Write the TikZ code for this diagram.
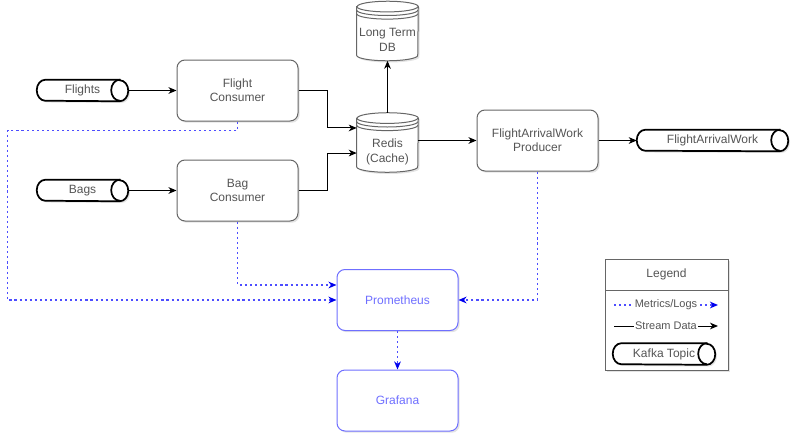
\documentclass[tikz,border=0pt]{standalone}
\usepackage{fontspec}
\setmainfont{Liberation Sans}
\usepackage{tikz}
\usetikzlibrary{arrows.meta,shadows,backgrounds}
\tikzset{>={Stealth[length=6pt,width=5pt,inset=1.8pt]}}
\definecolor{boxgray}{HTML}{666666}
\definecolor{textgray}{HTML}{555555}
\definecolor{metricblue}{HTML}{4D4DFF}
\definecolor{tipblue}{HTML}{0000EE}
\definecolor{promblue}{HTML}{6F6FFF}
\tikzset{softshadow/.style={drop shadow={opacity=0.22, shadow xshift=1.3pt, shadow yshift=-1.3pt}}}

% kafka topic outline round a named node
\newcommand{\kafkatopic}[1]{%
  \begin{scope}[on background layer]
    \path[draw=black, line width=1.3pt, fill=white, softshadow]
      ([xshift=-6.4pt]#1.north east) -- ([xshift=6.4pt]#1.north west)
      arc[start angle=90, end angle=270, x radius=6.4pt, y radius=7.875pt]
      -- ([xshift=-6.4pt]#1.south east)
      arc[start angle=-90, end angle=90, x radius=6.4pt, y radius=7.875pt] -- cycle;
    \draw[black, line width=1.3pt] ([xshift=-6.4pt]#1.north east)
      arc[start angle=90, end angle=270, x radius=6.4pt, y radius=7.875pt];
  \end{scope}}

% datastore outline round a named node
\newcommand{\datastore}[1]{%
  \begin{scope}[on background layer]
    \path[draw=boxgray, line width=0.75pt, fill=white, softshadow]
      ([yshift=-4pt]#1.north west) -- ([yshift=4pt]#1.south west)
      arc[start angle=180, end angle=360, x radius=22.875pt, y radius=4pt]
      -- ([yshift=-4pt]#1.north east)
      arc[start angle=0, end angle=180, x radius=22.875pt, y radius=4pt] -- cycle;
  \end{scope}
  \foreach \rim in {4,6.7,9.4}
    \draw[boxgray, line width=0.75pt] ([yshift=-\rim pt]#1.north west)
      arc[start angle=180, end angle=360, x radius=22.875pt, y radius=4pt];}

\begin{document}
\begin{tikzpicture}[x=0.75pt, y=-0.75pt]
  \tikzstyle{box} = [draw=boxgray, line width=0.75pt, rounded corners=6pt, fill=white, text=textgray, align=center, minimum width=90.75pt, minimum height=45.75pt, font=\fontsize{9}{10.5}\selectfont, softshadow]
  \tikzstyle{mbox} = [box, draw=promblue, text=promblue]
  \tikzstyle{topic} = [minimum width=68.25pt, minimum height=15.75pt, inner sep=0pt, text=textgray, font=\fontsize{9}{10.5}\selectfont]
  \tikzstyle{dbnode} = [minimum width=45.75pt, minimum height=44.25pt, inner sep=0pt]
  \tikzstyle{dblabel} = [align=center, text=textgray, font=\fontsize{9}{11}\selectfont, yshift=-6.8pt]
  \tikzstyle{legtext} = [fill=white, inner sep=0.8pt, text=textgray, font=\fontsize{8.25}{10}\selectfont]
  \tikzstyle{stream} = [draw=black, line width=0.75pt, ->]
  \tikzstyle{metric} = [draw=metricblue, line width=1.15pt, dash pattern=on 1.6pt off 2.2pt, -{Stealth[length=6pt,width=5pt,inset=1.8pt,color=tipblue]}]

  \useasboundingbox (0,0) rectangle (800,443);

  % topics in
  \node[topic] (flights) at (82.5,90.5) {Flights};
  \kafkatopic{flights}
  \node[topic] (bags) at (82.5,190.5) {Bags};
  \kafkatopic{bags}

  % consumers
  \node[box] (fcons) at (237.5,90.5) {Flight\\Consumer};
  \node[box] (bcons) at (237.5,190.5) {Bag\\Consumer};

  % stores
  \node[dbnode, label={[dblabel]center:{Redis\\(Cache)}}] (redis) at (387.5,142.5) {};
  \datastore{redis}
  \node[dbnode, label={[dblabel]center:{Long Term\\DB}}] (ltdb) at (387.5,31) {};
  \datastore{ltdb}

  % producer and topic out
  \node[box] (faw) at (537.5,140.5) {FlightArrivalWork\\Producer};
  \node[topic, minimum width=113.25pt] (fawt) at (712.5,140.5) {FlightArrivalWork};
  \kafkatopic{fawt}

  % monitoring
  \node[mbox] (prom) at (397.5,300) {Prometheus};
  \node[mbox] (graf) at (397.5,400.5) {Grafana};

  \draw[stream] (flights) -- (fcons);
  \draw[stream] (bags) -- (bcons);
  \draw[stream] (fcons.east) -- ++(29,0) |- ([yshift=10.9pt]redis.west);
  \draw[stream] (bcons.east) -- ++(29,0) |- ([yshift=-7.9pt]redis.west);
  \draw[stream] (redis) -- (ltdb);
  \draw[stream] (redis.east |- faw.west) -- (faw.west);
  \draw[stream] (faw) -- (fawt);

  \draw[metric] (fcons.south) -- ++(0,9) -- ++(-230,0) |- (prom.west);
  \draw[metric] (bcons.south) |- ([yshift=11.25pt]prom.west);
  \draw[metric] (faw.south) |- (prom.east);
  \draw[metric] (prom) -- (graf);

  % legend
  \begin{scope}[on background layer]
    \node[draw=boxgray, line width=0.75pt, fill=white, softshadow, minimum width=92.25pt, minimum height=83.25pt] (legend) at (666.5,314.5) {};
  \end{scope}
  \node[draw=boxgray, line width=0.75pt, minimum width=92.25pt, minimum height=23.25pt, anchor=north, text=textgray, font=\fontsize{9}{10.5}\selectfont] (legendhead) at (legend.north) {Legend};
  \coordinate (mstart) at (614,305);
  \coordinate (mend) at (718,305);
  \draw[metric] (mstart) -- (mend) node[midway, legtext] {Metrics/Logs};
  \coordinate (sstart) at (614,326);
  \coordinate (send) at (718,326);
  \draw[stream] (sstart) -- (send) node[midway, legtext] {Stream Data};
  \node[topic, minimum width=76.5pt] (legtopic) at (664,354) {Kafka Topic};
  \kafkatopic{legtopic}
\end{tikzpicture}
\end{document}
